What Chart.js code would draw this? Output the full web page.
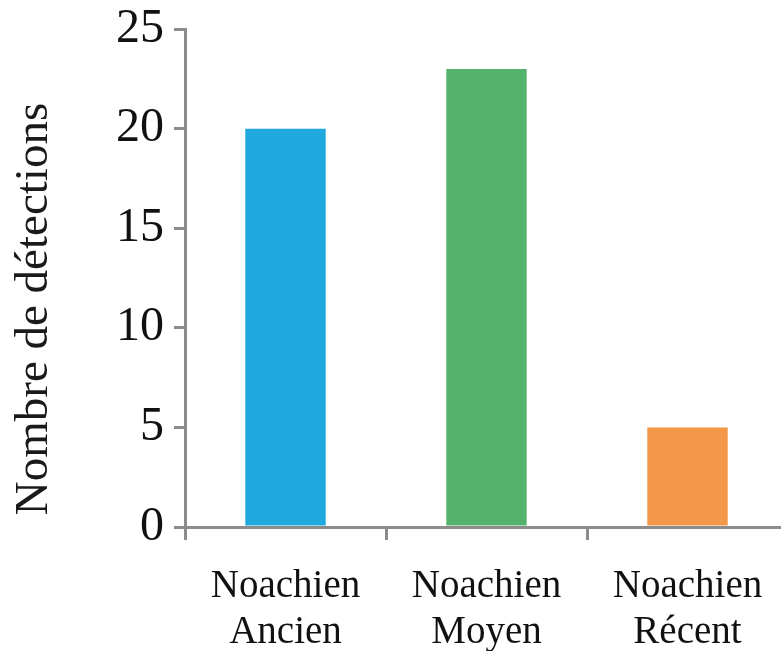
<!DOCTYPE html>
<html>
<head>
<meta charset="utf-8">
<script src="https://cdn.jsdelivr.net/npm/chart.js@4"></script>
<style>
  html, body { margin: 0; padding: 0; background: #fff; overflow: hidden; }
  #wrap { width: 781px; height: 651px; overflow: hidden; }
</style>
</head>
<body>
<div id="wrap"><canvas id="chart" width="800" height="651"></canvas></div>
<script>
// categories (two-line labels) and values
const categories = [['Noachien', 'Ancien'], ['Noachien', 'Moyen'], ['Noachien', 'Récent']];
const detections = [20, 23, 5];
const barColors = ['#20a9df', '#53b36c', '#f39749'];
const yTicks = [0, 5, 10, 15, 20, 25];
const yTitle = 'Nombre de détections';

const axisGrey = '#8c8c8c';
const serif = "'Liberation Serif', 'Times New Roman', serif";

const ctx = document.getElementById('chart').getContext('2d');
new Chart(ctx, {
    type: 'bar',
    data: {
        labels: categories,
        datasets: [{
            data: detections,
            backgroundColor: barColors,
            borderWidth: 0,
            categoryPercentage: 1,
            barPercentage: 0.4
        }]
    },
    options: {
        responsive: false,
        animation: false,
        layout: { padding: { left: 0, right: 12, top: 0, bottom: 0 } },
        plugins: { legend: { display: false }, tooltip: { enabled: false } },
        scales: {
            x: {
                offset: true,
                grid: { offset: true, drawOnChartArea: false, tickLength: 13, color: axisGrey, lineWidth: 3 },
                border: { color: axisGrey, width: 3 },
                ticks: {
                    color: '#111',
                    padding: 24,
                    maxRotation: 0,
                    font: { family: serif, size: 39, lineHeight: 1.18 }
                },
                afterFit: (scale) => { scale.height = 124; }
            },
            y: {
                min: 0,
                max: 25,
                afterBuildTicks: (scale) => { scale.ticks = yTicks.map(v => ({ value: v })); },
                grid: { drawOnChartArea: false, tickLength: 11, color: axisGrey, lineWidth: 3 },
                border: { color: axisGrey, width: 3 },
                ticks: {
                    color: '#111',
                    padding: 10,
                    // small line height keeps the top label from pushing the plot down
                    font: { family: serif, size: 48, lineHeight: 0.8 }
                },
                title: {
                    display: true,
                    text: ' ' + yTitle,
                    color: '#1a1a1a',
                    align: 'start',
                    padding: { top: 6, bottom: 0 },
                    font: { family: serif, size: 47, lineHeight: 1.2 }
                },
                afterFit: (scale) => { scale.width = 185; }
            }
        }
    }
});
</script>
</body>
</html>
